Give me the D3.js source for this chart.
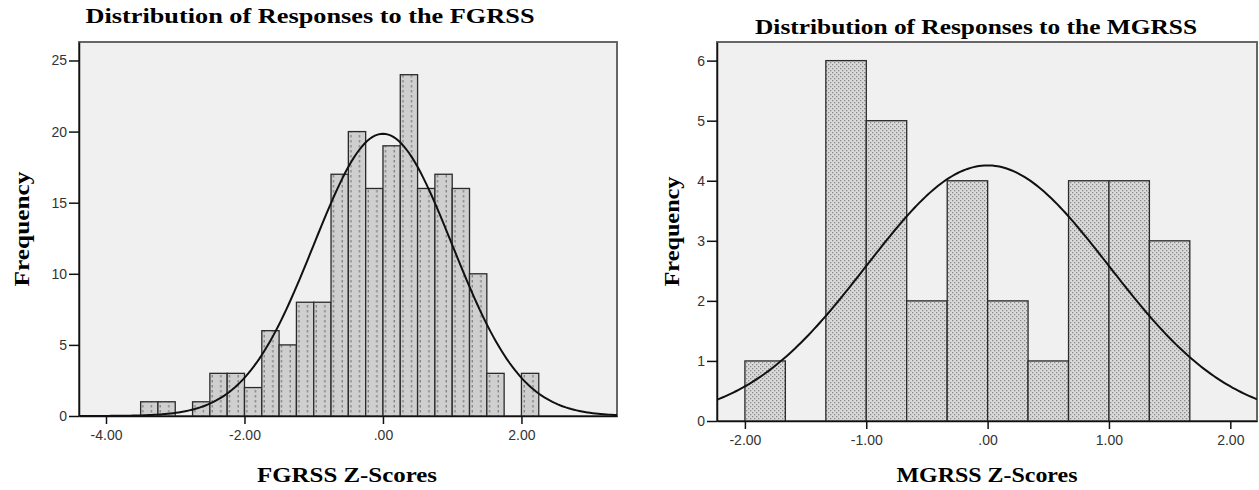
<!DOCTYPE html>
<html lang="en">
  <head>
    <meta charset="UTF-8">
    <title>Distribution of Responses</title>
    <style>
      body { margin: 0; background: #fff; }
      svg { display: block; }
    </style>
    <script src="https://d3js.org/d3.v7.min.js"></script>
    <script>
      // FGRSS histogram (left)
      var fgrssBinStarts = [-3.50, -3.25, -3.00, -2.75, -2.50, -2.25, -2.00, -1.75, -1.50, -1.25, -1.00, -0.75,
                            -0.50, -0.25, 0.00, 0.25, 0.50, 0.75, 1.00, 1.25, 1.50, 1.75, 2.00];
      var fgrssCounts = [1, 1, 0, 1, 3, 3, 2, 6, 5, 8, 8, 17, 20, 16, 19, 24, 16, 17, 16, 10, 3, 0, 3];
      var fgrssBinWidth = 0.25;
      var fgrssXTicks = [-4, -2, 0, 2];
      var fgrssXTickLabels = ["-4.00", "-2.00", ".00", "2.00"];
      var fgrssYTicks = [0, 5, 10, 15, 20, 25];

      // MGRSS histogram (right)
      var mgrssBinStarts = [-2.000, -1.667, -1.333, -1.000, -0.667, -0.333, 0.000, 0.333, 0.667, 1.000, 1.333];
      var mgrssCounts = [1, 0, 6, 5, 2, 4, 2, 1, 4, 4, 3];
      var mgrssBinWidth = 1 / 3;
      var mgrssXTicks = [-2, -1, 0, 1, 2];
      var mgrssXTickLabels = ["-2.00", "-1.00", ".00", "1.00", "2.00"];
      var mgrssYTicks = [0, 1, 2, 3, 4, 5, 6];

      // fitted normal curve (z-scores)
      var curveMean = 0;
      var curveSD = 1;

      window.onload = function () {
	var svg = d3.select("body").append("svg")
	    .attr("width", 1259)
	    .attr("height", 490);

	var defs = svg.append("defs");

	// vertical dotted pattern for the FGRSS bars
	var p1 = defs.append("pattern").attr("id", "dots-v")
	    .attr("patternUnits", "userSpaceOnUse")
	    .attr("width", 8.67).attr("height", 5);
	p1.append("rect").attr("width", 8.67).attr("height", 5).attr("fill", "#cfcfcf");
	p1.append("rect").attr("x", 3.5).attr("y", 0).attr("width", 1.2).attr("height", 2.5).attr("fill", "#7a7a7a");

	// fine stipple for the MGRSS bars
	var p2 = defs.append("pattern").attr("id", "stipple")
	    .attr("patternUnits", "userSpaceOnUse")
	    .attr("width", 4).attr("height", 4);
	p2.append("rect").attr("width", 4).attr("height", 4).attr("fill", "#dadada");
	p2.append("rect").attr("x", 0).attr("y", 0).attr("width", 1.3).attr("height", 1.3).attr("fill", "#8a8a8a");
	p2.append("rect").attr("x", 2).attr("y", 2).attr("width", 1.3).attr("height", 1.3).attr("fill", "#8a8a8a");

	drawHist({
	  id: "fg",
	  left: 79, right: 617, top: 42, bottom: 416,
	  xDomain: [-4.39, 3.38], yDomain: [0, 26.3],
	  starts: fgrssBinStarts, counts: fgrssCounts, width: fgrssBinWidth,
	  xTicks: fgrssXTicks, xLabels: fgrssXTickLabels, yTicks: fgrssYTicks,
	  fill: "url(#dots-v)",
	  title: "Distribution of Responses to the FGRSS", titleX: 310, titleY: 23, titleLen: 449,
	  xTitle: "FGRSS Z-Scores", xTitleX: 347, xTitleLen: 180,
	  yTitleX: 22, yTitleLen: 115
	});

	drawHist({
	  id: "mg",
	  left: 717, right: 1257, top: 42, bottom: 421,
	  xDomain: [-2.23, 2.22], yDomain: [0, 6.31],
	  starts: mgrssBinStarts, counts: mgrssCounts, width: mgrssBinWidth,
	  xTicks: mgrssXTicks, xLabels: mgrssXTickLabels, yTicks: mgrssYTicks,
	  fill: "url(#stipple)",
	  title: "Distribution of Responses to the MGRSS", titleX: 976, titleY: 34, titleLen: 442,
	  xTitle: "MGRSS Z-Scores", xTitleX: 987, xTitleLen: 181,
	  yTitleX: 672, yTitleLen: 110
	});

	function drawHist(c) {
	  var x = d3.scaleLinear().domain(c.xDomain).range([c.left, c.right]);
	  var y = d3.scaleLinear().domain(c.yDomain).range([c.bottom, c.top]);
	  var n = d3.sum(c.counts);

	  var g = svg.append("g");

	  g.append("clipPath").attr("id", "clip-" + c.id)
	    .append("rect")
	    .attr("x", c.left).attr("y", c.top)
	    .attr("width", c.right - c.left).attr("height", c.bottom - c.top);

	  // plot background + frame
	  g.append("rect")
	    .attr("x", c.left).attr("y", c.top)
	    .attr("width", c.right - c.left).attr("height", c.bottom - c.top)
	    .attr("fill", "#f0f0f0")
	    .attr("stroke", "#666").attr("stroke-width", 2);

	  // bars
	  g.append("g").selectAll("rect")
	    .data(c.counts.map(function (d, i) { return { x0: c.starts[i], count: d }; })
		  .filter(function (d) { return d.count > 0; }))
	    .enter().append("rect")
	    .attr("x", function (d) { return x(d.x0); })
	    .attr("width", function (d) { return x(d.x0 + c.width) - x(d.x0); })
	    .attr("y", function (d) { return y(d.count); })
	    .attr("height", function (d) { return y(0) - y(d.count); })
	    .attr("fill", c.fill)
	    .attr("stroke", "#2a2a2a")
	    .attr("stroke-width", 1.3);

	  // normal curve
	  var scale = n * c.width / (curveSD * Math.sqrt(2 * Math.PI));
	  var xs = d3.range(0, 201).map(function (i) {
	    return c.xDomain[0] + (c.xDomain[1] - c.xDomain[0]) * i / 200;
	  });
	  var line = d3.line()
	      .x(function (v) { return x(v); })
	      .y(function (v) {
		var z = (v - curveMean) / curveSD;
		return y(scale * Math.exp(-0.5 * z * z));
	      });
	  g.append("path")
	    .datum(xs)
	    .attr("d", line)
	    .attr("clip-path", "url(#clip-" + c.id + ")")
	    .attr("fill", "none")
	    .attr("stroke", "#111")
	    .attr("stroke-width", 2);

	  // axes
	  var yAxis = d3.axisLeft(y).tickValues(c.yTicks).tickFormat(d3.format("d"))
	      .tickSize(10).tickSizeOuter(0).tickPadding(2);
	  var gy = g.append("g").attr("transform", "translate(" + c.left + ",0)").call(yAxis);
	  gy.select(".domain").attr("stroke", "#111").attr("stroke-width", 1.5);
	  gy.selectAll(".tick line").attr("stroke", "#111").attr("stroke-width", 1.5);
	  gy.selectAll("text").attr("font-family", "Liberation Sans, Arial, sans-serif")
	    .attr("font-size", 14).attr("fill", "#333");

	  var xAxis = d3.axisBottom(x).tickValues(c.xTicks)
	      .tickFormat(function (d, i) { return c.xLabels[i]; })
	      .tickSize(8).tickSizeOuter(0).tickPadding(6);
	  var gx = g.append("g").attr("transform", "translate(0," + c.bottom + ")").call(xAxis);
	  gx.select(".domain").attr("stroke", "#111").attr("stroke-width", 1.5);
	  gx.selectAll(".tick line").attr("stroke", "#111").attr("stroke-width", 1.5);
	  gx.selectAll("text").attr("font-family", "Liberation Sans, Arial, sans-serif")
	    .attr("font-size", 14).attr("fill", "#333");

	  // titles
	  var serif = "Liberation Serif, Times New Roman, serif";
	  g.append("text")
	    .attr("x", c.titleX).attr("y", c.titleY)
	    .attr("text-anchor", "middle")
	    .attr("font-family", serif).attr("font-weight", "bold").attr("font-size", 22)
	    .attr("textLength", c.titleLen).attr("lengthAdjust", "spacingAndGlyphs")
	    .text(c.title);

	  g.append("text")
	    .attr("x", c.xTitleX).attr("y", 482)
	    .attr("text-anchor", "middle")
	    .attr("font-family", serif).attr("font-weight", "bold").attr("font-size", 20)
	    .attr("textLength", c.xTitleLen).attr("lengthAdjust", "spacingAndGlyphs")
	    .text(c.xTitle);

	  g.append("text")
	    .attr("transform", "translate(" + (c.yTitleX + 7) + "," + ((c.top + c.bottom) / 2) + ") rotate(-90)")
	    .attr("text-anchor", "middle")
	    .attr("font-family", serif).attr("font-weight", "bold").attr("font-size", 20)
	    .attr("textLength", c.yTitleLen).attr("lengthAdjust", "spacingAndGlyphs")
	    .text("Frequency");
	}
      };
    </script>
  </head>
  <body>
  </body>
</html>
